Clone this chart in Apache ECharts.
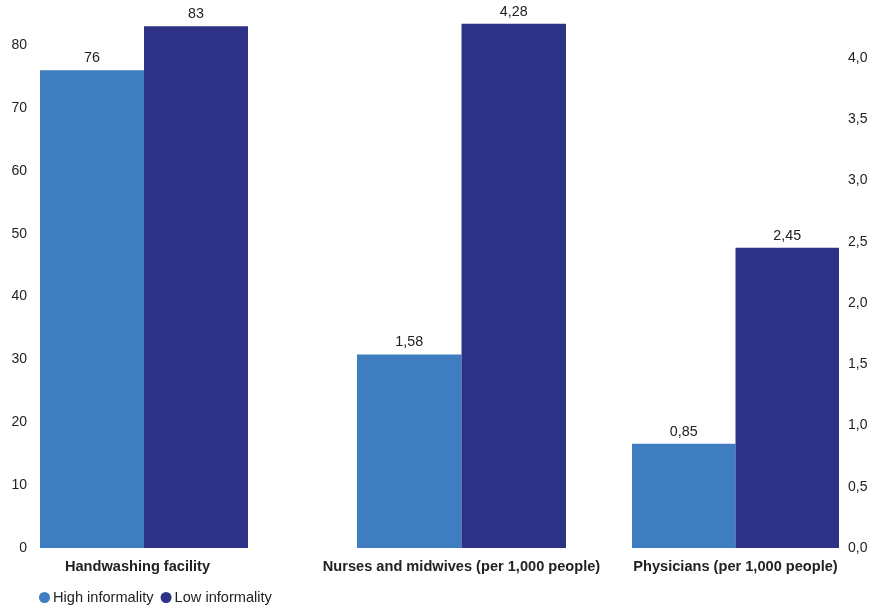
<!DOCTYPE html>
<html>
<head>
<meta charset="utf-8">
<script src="https://cdn.jsdelivr.net/npm/echarts@6/dist/echarts.min.js"></script>
<style>
  html, body { margin: 0; padding: 0; background: #fff; }
  #chart { width: 889px; height: 608px; }
</style>
</head>
<body>
<div id="chart"></div>
<script>
// Indicator groups, each drawn in its own panel
const categories = ['Handwashing facility', 'Nurses and midwives (per 1,000 people)', 'Physicians (per 1,000 people)'];
const seriesNames = ['High informality', 'Low informality'];
const highInformality = [76, 1.58, 0.85];
const lowInformality = [83, 4.28, 2.45];
const leftTicks = [0, 10, 20, 30, 40, 50, 60, 70, 80];
const rightTicks = [0, 0.5, 1, 1.5, 2, 2.5, 3, 3.5, 4];

const colors = ['#3D7DC0', '#2E3286'];
const textColor = '#222';
const fontFamily = 'Liberation Sans, Arial, sans-serif';

const comma = (v, digits) => v.toFixed(digits).replace('.', ',');
const decimals = v => (String(v).split('.')[1] || '').length;

// Left scale (percent) and right scale (per 1,000 people)
const leftMax = 84.0;
const rightMax = 4.31;

const panels = [
  { left: 40, width: 208, axis: 'left', labelPad: [0, 13, 0, 0] },
  { left: 357, width: 209, axis: 'none', labelPad: 0 },
  { left: 632, width: 207, axis: 'right', labelPad: 0 }
];

const grid = panels.map(p => ({ left: p.left, width: p.width, top: 20, bottom: 60 }));

const xAxis = panels.map((p, i) => ({
  type: 'category',
  gridIndex: i,
  data: [categories[i]],
  axisLine: { show: false },
  axisTick: { show: false },
  axisLabel: {
    color: textColor, fontFamily, fontSize: 14.6, fontWeight: 'bold', margin: 11,
    interval: 0, padding: p.labelPad
  }
}));

function tickFormatter(ticks, digits) {
  return v => {
    const hit = ticks.find(t => Math.abs(t - v) < 1e-6);
    return hit === undefined ? '' : comma(hit, digits);
  };
}

const yAxis = panels.map((p, i) => {
  const isLeft = i === 0;
  const ticks = isLeft ? leftTicks : rightTicks;
  return {
    type: 'value',
    gridIndex: i,
    min: 0,
    max: isLeft ? leftMax : rightMax,
    interval: isLeft ? 10 : 0.5,
    position: p.axis === 'right' ? 'right' : 'left',
    show: p.axis !== 'none',
    splitLine: { show: false },
    axisLine: { show: false },
    axisTick: { show: false },
    axisLabel: {
      show: p.axis !== 'none',
      color: textColor, fontFamily, fontSize: 14,
      margin: isLeft ? 13 : 9,
      formatter: tickFormatter(ticks, isLeft ? 0 : 1)
    }
  };
});

const series = [];
panels.forEach((p, i) => {
  [highInformality, lowInformality].forEach((vals, s) => {
    series.push({
      name: seriesNames[s],
      type: 'bar',
      xAxisIndex: i,
      yAxisIndex: i,
      data: [vals[i]],
      barGap: '0%',
      barCategoryGap: '0%',
      itemStyle: { color: colors[s] },
      label: {
        show: true,
        position: 'top',
        distance: 5,
        color: textColor,
        fontFamily,
        fontSize: 14.3,
        formatter: d => comma(d.value, decimals(d.value))
      }
    });
  });
});

const chart = echarts.init(document.getElementById('chart'), null, { renderer: 'canvas' });
chart.setOption({
  backgroundColor: '#fff',
  animation: false,
  color: colors,
  grid,
  xAxis,
  yAxis,
  series,
  legend: {
    data: seriesNames,
    left: 39,
    top: 590,
    icon: 'circle',
    itemWidth: 11,
    itemHeight: 11,
    itemGap: 7,
    padding: 0,
    textStyle: { color: textColor, fontFamily, fontSize: 14.6, padding: [0, 0, 0, -2] }
  }
});
</script>
</body>
</html>
